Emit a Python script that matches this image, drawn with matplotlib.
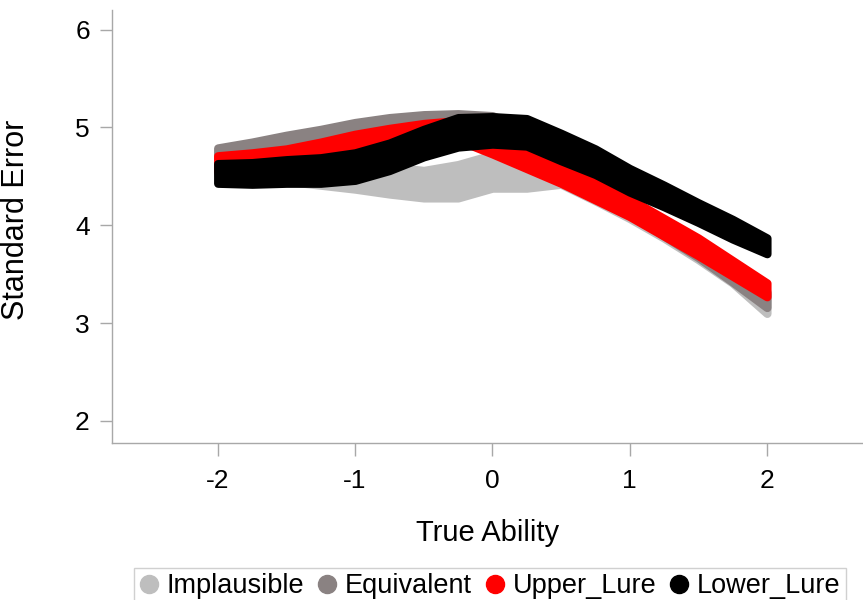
import matplotlib
matplotlib.use("Agg")
import matplotlib.pyplot as plt
from matplotlib.lines import Line2D

# band centre and half-width, every 0.25 in ability
ability = [-2, -1.75, -1.5, -1.25, -1, -0.75, -0.5, -0.25, 0,
           0.25, 0.5, 0.75, 1, 1.25, 1.5, 1.75, 2]

implausible_se = [4.62, 4.60, 4.57, 4.53, 4.50, 4.46, 4.42, 4.45, 4.55,
                  4.53, 4.50, 4.33, 4.15, 3.95, 3.73, 3.49, 3.20]
implausible_hw = [0.10, 0.11, 0.12, 0.12, 0.13, 0.14, 0.14, 0.17, 0.17,
                  0.15, 0.08, 0.08, 0.08, 0.08, 0.08, 0.08, 0.10]

equivalent_se = [4.70, 4.76, 4.82, 4.88, 4.95, 5.00, 5.03, 5.04, 5.02,
                 4.88, 4.68, 4.45, 4.20, 3.97, 3.75, 3.50, 3.24]
equivalent_hw = [0.09, 0.09, 0.10, 0.10, 0.10, 0.10, 0.10, 0.10, 0.10,
                 0.10, 0.09, 0.09, 0.08, 0.08, 0.08, 0.08, 0.08]

upper_se = [4.63, 4.66, 4.70, 4.76, 4.84, 4.90, 4.95, 4.97, 4.83,
            4.68, 4.53, 4.36, 4.18, 3.98, 3.78, 3.56, 3.34]
upper_hw = [0.08, 0.08, 0.08, 0.09, 0.09, 0.09, 0.09, 0.10, 0.10,
            0.10, 0.10, 0.10, 0.09, 0.09, 0.09, 0.08, 0.07]

lower_se = [4.53, 4.53, 4.55, 4.56, 4.60, 4.70, 4.84, 4.95, 4.97,
            4.95, 4.80, 4.65, 4.46, 4.30, 4.13, 3.96, 3.79]
lower_hw = [0.10, 0.11, 0.12, 0.13, 0.14, 0.14, 0.14, 0.15, 0.14,
            0.14, 0.14, 0.13, 0.12, 0.11, 0.10, 0.10, 0.08]

names = ["Implausible", "Equivalent", "Upper_Lure", "Lower_Lure"]
colors = ["#bebebe", "#8a8282", "#ff0000", "#000000"]

plt.rcParams['font.family'] = ['Liberation Sans', 'DejaVu Sans']
plt.rcParams['axes.unicode_minus'] = False

fig = plt.figure(figsize=(8.63, 6), dpi=100)
ax = fig.add_axes([0.1298, 0.2617, 0.8702, 0.7216])

series = [(implausible_se, implausible_hw), (equivalent_se, equivalent_hw),
          (upper_se, upper_hw), (lower_se, lower_hw)]
for (se, hw), col in zip(series, colors):
    lo = [s - h for s, h in zip(se, hw)]
    hi = [s + h for s, h in zip(se, hw)]
    # the cloud of points is drawn as a band with rounded edges
    ax.fill_between(ability, lo, hi, color=col, edgecolor=col,
                    linewidth=6, joinstyle='round', capstyle='round')

ax.set_xlim(-2.77, 2.70)
ax.set_ylim(1.775, 6.2)
ax.set_xticks([-2, -1, 0, 1, 2])
ax.set_yticks([2, 3, 4, 5, 6])

for side in ['top', 'right']:
    ax.spines[side].set_visible(False)
for side in ['left', 'bottom']:
    ax.spines[side].set_color('#a8a8a8')
    ax.spines[side].set_linewidth(1)
ax.tick_params(axis='both', length=9, width=1, color='#a8a8a8',
               labelsize=19, labelcolor='black')
ax.tick_params(axis='x', pad=10)
ax.tick_params(axis='y', pad=7)

ax.set_xlabel("True Ability", fontsize=21)
ax.set_ylabel("Standard Error", fontsize=22)
ax.xaxis.set_label_coords(0.5, -0.175)
ax.yaxis.set_label_coords(-0.108, 0.515)

handles = [Line2D([], [], marker='o', ls='', color=c, markersize=13)
           for c in colors]
fig.legend(handles, names, loc='upper left', bbox_to_anchor=(0.1553, 0.0533),
           ncol=4, fontsize=19.5, frameon=True, fancybox=False,
           edgecolor='#d0d0d0', framealpha=1, borderaxespad=0,
           handlelength=0.7, handletextpad=0.3, columnspacing=0.5,
           borderpad=0.2)

fig.savefig("out.png", dpi=100)
